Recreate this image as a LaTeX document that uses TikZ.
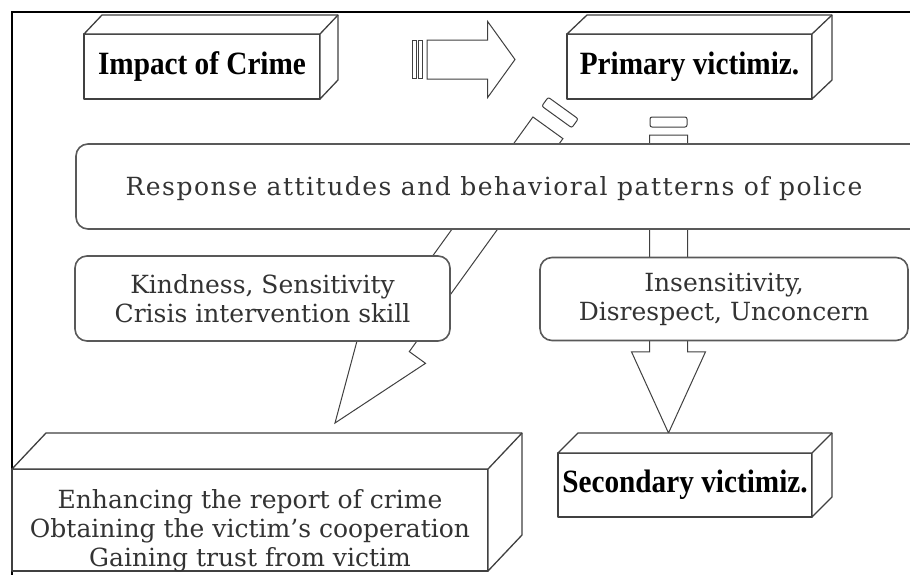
\documentclass[tikz,border=0pt]{standalone}
\usepackage{fontspec}
\setmainfont{DejaVu Serif}
\newfontfamily\titlefont[FakeStretch=0.9]{Liberation Serif}
\newfontfamily\widefont[LetterSpace=6]{DejaVu Serif}
\usetikzlibrary{positioning,shapes.arrows,calc}
\tikzset{
  boxline/.style={draw=black!75, line width=1.3pt, line join=round},
  frontface/.style={boxline, fill=white, inner sep=0pt, outer sep=0pt, font=\titlefont\bfseries\fontsize{32.5}{36}\selectfont},
  roundbox/.style={draw=black!65, line width=1.6pt, rounded corners=12pt, fill=white, inner sep=0pt, outer sep=0pt, align=center, text=black!80, font=\fontsize{25}{29}\selectfont},
  bodytext/.style={align=center, text=black!80, font=\fontsize{25}{29}\selectfont},
  blockarrow/.style={single arrow, draw=black!75, line width=1pt, fill=white, inner sep=0pt, outer sep=0pt},
  stripe/.style={draw=black!75, line width=1pt, fill=white, rounded corners=2pt, inner sep=0pt, outer sep=0pt}
}
% top and right faces of a box
\newcommand{\boxdepth}[3]{%
  \draw[boxline, fill=white] (#1.north west) -- ++(#2,-#3) -- ($(#1.north east)+(#2,-#3)$) -- ($(#1.south east)+(#2,-#3)$) -- (#1.south east) -- (#1.north east) -- cycle;
  \draw[boxline] (#1.north east) -- ++(#2,-#3);}

\begin{document}
\begin{tikzpicture}[x=1pt, y=-1pt]
  \useasboundingbox (0,0) rectangle (910,574);
  \clip (0,0) rectangle (910,574);
  \fill[white] (0,0) rectangle (910,574);
  \draw[line width=1.5pt] (12,12) rectangle (930,600);

  % block arrows (behind the boxes)
  \node[stripe, rounded corners=0pt, minimum width=4pt, minimum height=38pt] (crimestripeA) at (414,59.5) {};
  \node[stripe, rounded corners=0pt, minimum width=4pt, minimum height=38pt] (crimestripeB) at (420.5,59.5) {};
  \node[blockarrow, minimum height=88pt, single arrow head extend=18.5pt, single arrow tip angle=108.5, inner ysep=19pt, anchor=tip] (crimearrow) at (515,59.5) {};

  \node[stripe, rotate=234.2, minimum width=11pt, minimum height=37pt] (kindstripe) at (560,112.5) {};
  \node[blockarrow, rotate=234.2, minimum height=364pt, single arrow head extend=20pt, single arrow tip angle=41.6, inner ysep=18pt, anchor=tip] (kindarrow) at (335,423) {};

  \node[stripe, minimum width=37pt, minimum height=10pt] (insensstripe) at (668.5,122) {};
  \node[blockarrow, rotate=270, minimum height=298pt, single arrow head extend=18pt, single arrow tip angle=49, inner ysep=18.5pt, anchor=tip] (insensarrow) at (668.5,433) {};

  % boxes
  \node[frontface, minimum width=236pt, minimum height=65pt] (impact) at (202,66.5) {Impact of Crime};
  \boxdepth{impact}{18}{19}
  \node[frontface, minimum width=245pt, minimum height=65pt] (primary) at (689.5,66.5) {Primary victimiz.};
  \boxdepth{primary}{20}{19}

  \node[roundbox, minimum width=854pt, minimum height=85pt] (response) at (503,186.5) {};
  \node[bodytext, font=\widefont\fontsize{25}{29}\selectfont] (resptext) at (494,189) {Response attitudes and behavioral patterns of police};

  \node[roundbox, minimum width=375pt, minimum height=85pt] (kind) at (262.5,298.5) {Kindness, Sensitivity\\Crisis intervention skill};
  \node[roundbox, minimum width=368pt, minimum height=83pt] (insens) at (724,299) {Insensitivity,\\Disrespect, Unconcern};

  \node[frontface, minimum width=476pt, minimum height=102pt] (enhance) at (250,520) {};
  \boxdepth{enhance}{34}{36}
  \node[bodytext] (enhtext) at (250,531) {Enhancing the report of crime\\Obtaining the victim's cooperation\\Gaining trust from victim};

  \node[frontface, minimum width=254pt, minimum height=64pt] (secondary) at (685,485) {Secondary victimiz.};
  \boxdepth{secondary}{20}{20}
\end{tikzpicture}
\end{document}
